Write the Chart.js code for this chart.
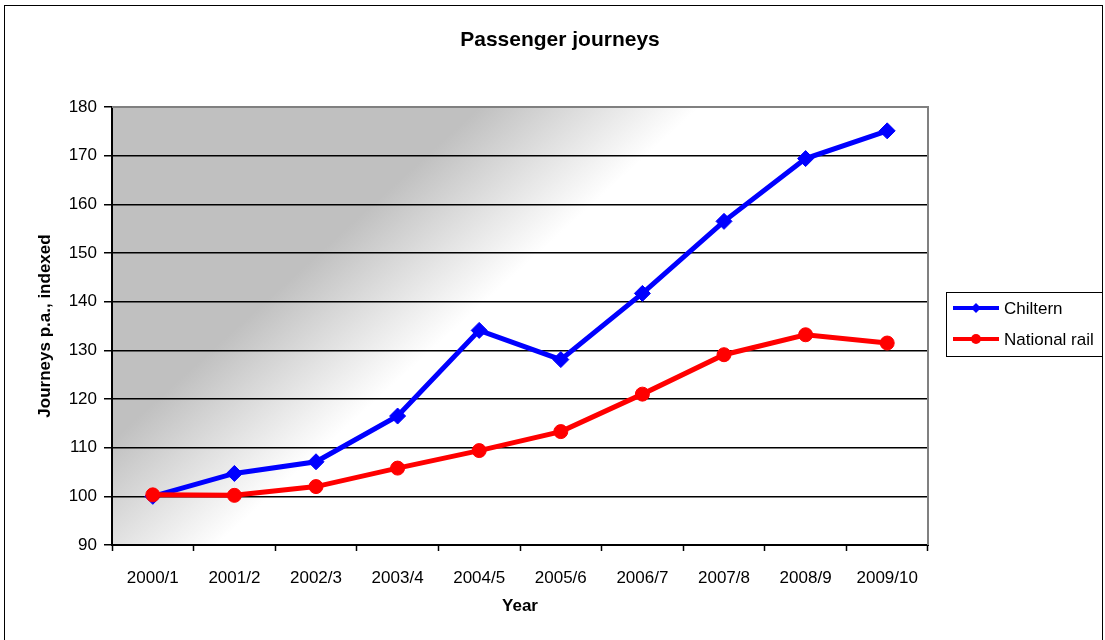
<!DOCTYPE html>
<html>
<head>
<meta charset="utf-8">
<script src="https://cdn.jsdelivr.net/npm/chart.js@4/dist/chart.umd.min.js"></script>
<style>
  html, body { margin: 0; padding: 0; background: #fff; }
  #wrap { width: 1105px; height: 640px; }
</style>
</head>
<body>
<div id="wrap"><canvas id="journeys"></canvas></div>
<script>
// values
const years = ["2000/1", "2001/2", "2002/3", "2003/4", "2004/5", "2005/6", "2006/7", "2007/8", "2008/9", "2009/10"];
const chiltern = [100, 104.7, 107.1, 116.5, 134.1, 128.1, 141.7, 156.5, 169.4, 175.1];
const nationalRail = [100.3, 100.2, 102.0, 105.8, 109.4, 113.3, 121.0, 129.1, 133.2, 131.5];
const yMin = 90, yMax = 180, yStep = 10;

const FONT = "'Liberation Sans', Arial, sans-serif";
Chart.defaults.font.family = FONT;
Chart.defaults.color = "#000";

// gray diagonal shading, gray frame, outer border and the boxed legend
const excelLook = {
  id: "excelLook",
  beforeDraw(chart) {
    const { ctx, chartArea: a } = chart;
    const w = a.right - a.left, h = a.bottom - a.top;
    const g = ctx.createLinearGradient(a.left, a.top, a.left + 0.325 * w, a.top + 0.668 * h);
    g.addColorStop(0, "#c0c0c0");
    g.addColorStop(0.626, "#c0c0c0");
    g.addColorStop(1, "#ffffff");
    ctx.save();
    ctx.fillStyle = g;
    ctx.fillRect(a.left, a.top, w, h);
    ctx.restore();
  },
  afterDraw(chart) {
    const { ctx, chartArea: a } = chart;
    ctx.save();
    // gray top/right edges of the plot
    ctx.strokeStyle = "#808080";
    ctx.lineWidth = 2;
    ctx.beginPath();
    ctx.moveTo(a.left, a.top);
    ctx.lineTo(a.right, a.top);
    ctx.lineTo(a.right, a.bottom);
    ctx.stroke();
    // outer chart border
    ctx.strokeStyle = "#000";
    ctx.lineWidth = 1;
    ctx.strokeRect(4.5, 5.5, 1098, 640);
    // legend
    const lx = a.right + 18, ly = 292;
    ctx.strokeRect(lx + 0.5, ly + 0.5, 156, 64);
    ctx.font = "17px " + FONT;
    ctx.textBaseline = "middle";
    chart.data.datasets.forEach((ds, i) => {
      const y = ly + 16 + i * 31;
      ctx.strokeStyle = ds.borderColor;
      ctx.fillStyle = ds.borderColor;
      ctx.lineWidth = 4;
      ctx.beginPath();
      ctx.moveTo(lx + 7, y);
      ctx.lineTo(lx + 53, y);
      ctx.stroke();
      ctx.beginPath();
      if (ds.pointStyle === "rectRot") {
        ctx.moveTo(lx + 30, y - 5);
        ctx.lineTo(lx + 35, y);
        ctx.lineTo(lx + 30, y + 5);
        ctx.lineTo(lx + 25, y);
        ctx.closePath();
      } else {
        ctx.arc(lx + 30, y, 5, 0, Math.PI * 2);
      }
      ctx.fill();
      ctx.fillStyle = "#000";
      ctx.fillText(ds.label, lx + 58, y + 1);
    });
    ctx.restore();
  }
};

new Chart(document.getElementById("journeys"), {
  type: "line",
  data: {
    labels: years,
    datasets: [
      {
        label: "Chiltern",
        data: chiltern,
        borderColor: "#0000ff",
        backgroundColor: "#0000ff",
        borderWidth: 5,
        pointStyle: "rectRot",
        pointRadius: 8,
        pointBorderWidth: 1,
        tension: 0,
        order: 2,
      },
      {
        label: "National rail",
        data: nationalRail,
        borderColor: "#ff0000",
        backgroundColor: "#ff0000",
        borderWidth: 5,
        pointStyle: "circle",
        pointRadius: 7,
        pointBorderWidth: 1,
        tension: 0,
        order: 1,
      },
    ],
  },
  options: {
    responsive: true,
    maintainAspectRatio: false,
    animation: false,
    layout: { padding: { left: 15, right: 0, top: 0, bottom: 0 } },
    plugins: {
      legend: { display: false },
      tooltip: { enabled: false },
      title: {
        display: true,
        text: "Passenger journeys",
        font: { size: 21, weight: "bold" },
        color: "#000",
        padding: { top: 28, bottom: 53.8 },
      },
    },
    scales: {
      x: {
        offset: true,
        grid: {
          offset: true,
          drawOnChartArea: false,
          tickLength: 6,
          tickColor: "#000",
          tickWidth: 1.5,
        },
        border: { color: "#000", width: 2 },
        ticks: { font: { size: 17 }, padding: 17, color: "#000", maxRotation: 0, autoSkip: false },
        title: {
          display: true,
          text: "Year",
          font: { size: 17, weight: "bold" },
          color: "#000",
          padding: { top: 0, bottom: 23 },
        },
        afterFit: (s) => { s.height = 95; },
      },
      y: {
        min: yMin,
        max: yMax,
        grid: {
          color: (c) => (c.tick && c.tick.value === yMax ? "rgba(0,0,0,0)" : "#000"),
          lineWidth: 1.5,
          tickLength: 8,
          tickColor: "#000",
          tickWidth: 1.5,
        },
        border: { color: "#000", width: 2 },
        ticks: { stepSize: yStep, font: { size: 17 }, padding: 7, color: "#000" },
        title: {
          display: true,
          text: "Journeys p.a., indexed",
          font: { size: 17, weight: "bold" },
          color: "#000",
          padding: { top: 20, bottom: 0 },
        },
        afterFit: (s) => { s.width = 97; },
      },
      // empty axis that keeps room for the legend on the right
      legendRoom: {
        type: "linear",
        position: "right",
        display: true,
        grid: { display: false },
        border: { display: false },
        ticks: { display: false },
        afterFit: (s) => { s.width = 177; },
      },
    },
  },
  plugins: [excelLook],
});
</script>
</body>
</html>
